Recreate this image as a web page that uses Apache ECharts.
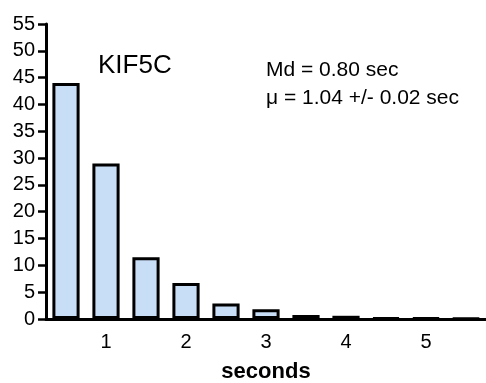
<!DOCTYPE html>
<html>
<head>
<meta charset="utf-8">
<script src="https://cdn.jsdelivr.net/npm/echarts@6/dist/echarts.min.js"></script>
<style>
  html, body { margin: 0; padding: 0; background: #fff; }
  #chart { width: 486px; height: 383px; }
</style>
</head>
<body>
<div id="chart"></div>
<script>
// Dwell-time histogram, 0.5 s bins
const binCenters = ['0.5', '1', '1.5', '2', '2.5', '3', '3.5', '4', '4.5', '5', '5.5'];
const percentValues = [44, 29, 11.5, 6.7, 2.9, 1.8, 0.75, 0.6, 0.2, 0.15, 0.1];
const xTickLabels = ['1', '2', '3', '4', '5'];
const titleText = 'KIF5C';
const statLines = ['Md = 0.80 sec', 'μ = 1.04 +/- 0.02 sec'];

const font = 'Liberation Sans, Arial, sans-serif';
const chart = echarts.init(document.getElementById('chart'), null, { renderer: 'canvas' });

chart.setOption({
  animation: false,
  backgroundColor: '#ffffff',
  grid: { left: 46, right: 0, top: 24, bottom: 64, containLabel: false, outerBoundsMode: 'none' },
  xAxis: {
    type: 'category',
    data: binCenters,
    boundaryGap: true,
    name: 'seconds',
    nameLocation: 'middle',
    nameGap: 42,
    nameTextStyle: { fontFamily: font, fontSize: 22, fontWeight: 'bold', color: '#000' },
    axisLine: { lineStyle: { color: '#000', width: 3 } },
    axisTick: { alignWithLabel: true, interval: 0, length: 8, lineStyle: { color: '#000', width: 2.5 } },
    axisLabel: {
      interval: 0,
      margin: 13,
      fontFamily: font,
      fontSize: 20,
      color: '#000',
      formatter: v => (xTickLabels.includes(v) ? v : '')
    },
    splitLine: { show: false }
  },
  yAxis: {
    type: 'value',
    min: 0,
    max: 55,
    interval: 5,
    axisLine: { show: true, lineStyle: { color: '#000', width: 3 } },
    axisTick: { show: true, length: 8, lineStyle: { color: '#000', width: 2.5 } },
    axisLabel: { margin: 11, fontFamily: font, fontSize: 20, color: '#000' },
    splitLine: { show: false }
  },
  series: [{
    type: 'bar',
    data: percentValues,
    barWidth: '68%',
    itemStyle: { color: '#c8ddf6', borderColor: '#000', borderWidth: 3 }
  }],
  graphic: [
    {
      type: 'text', left: 98, top: 53,
      style: { text: titleText, fontFamily: font, fontSize: 26, fill: '#000' }
    },
    {
      type: 'text', left: 266, top: 56,
      style: { text: statLines.join('\n'), fontFamily: font, fontSize: 21, lineHeight: 28, fill: '#000' }
    }
  ]
});
</script>
</body>
</html>
